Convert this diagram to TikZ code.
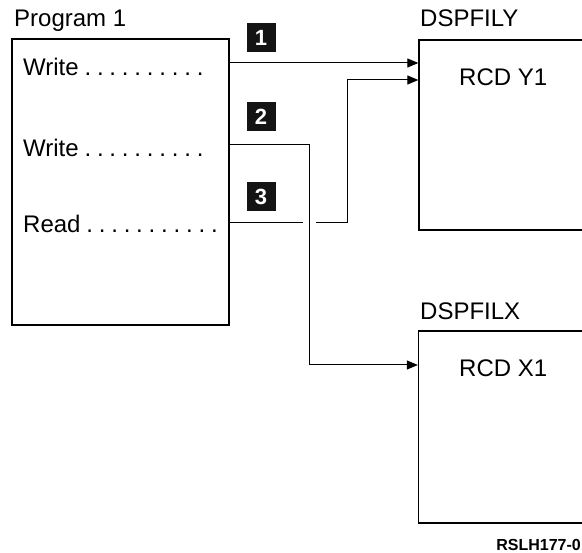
\documentclass[tikz,border=0pt]{standalone}
\usepackage{fontspec}
\setmainfont{Liberation Sans}
\usetikzlibrary{arrows.meta}
\begin{document}
\begin{tikzpicture}[x=1pt,y=-1pt]
\tikzset{
  box/.style={draw, line width=1.3pt, rectangle, inner sep=0pt},
  lbl/.style={anchor=base west, inner sep=0pt, font=\fontsize{24}{28}\selectfont},
  lead/.style={lbl, execute at begin node={\spaceskip=5.8pt\xspaceskip=5.8pt}},
  num/.style={fill=black!92, text=white, minimum size=29pt, inner sep=0pt, font=\fontsize{22}{26}\selectfont\bfseries},
  conn/.style={line width=1pt},
  arr/.style={conn, -{Triangle[length=11pt,width=9pt]}},
}
\clip (0,0) rectangle (582,553);
% boxes
\node[box, minimum width=217pt, minimum height=286pt] (prog) at (120.5,182) {};
\node[box, minimum width=240pt, minimum height=190pt] (dspy) at (539,135) {};
\node[box, minimum width=240pt, minimum height=192pt] (dspx) at (538.5,427) {};
% labels
\node[lbl] (tprog) at (14,27) {Program 1};
\node[lead] (w1) at (23,76) {Write . . . . . . . . . .};
\node[lead] (w2) at (23,157) {Write . . . . . . . . . .};
\node[lead] (rd) at (23,233) {Read . . . . . . . . . . .};
\node[lbl] (ty) at (420,27) {DSPFILY};
\node[lbl] (ry) at (459,86) {RCD Y1};
\node[lbl] (tx) at (420,320) {DSPFILX};
\node[lbl] (rx) at (459,377) {RCD X1};
\node[anchor=base east, inner sep=0pt, font=\fontsize{16}{19}\selectfont\bfseries] (code) at (581,551) {RSLH177-0};
% numbered squares
\node[num] (n1) at (261,38) {1};
\node[num] (n2) at (261,117) {2};
\node[num] (n3) at (261,197) {3};
% connector coordinates
\coordinate (y1) at (0,63);
\coordinate (y2) at (309,145);
\coordinate (y2b) at (309,365);
\coordinate (g3a) at (302.5,222.5);
\coordinate (g3b) at (316,222.5);
\coordinate (k3) at (347,222.5);
\coordinate (k3b) at (347,80);
% connectors
\draw[arr] (prog.east |- y1) -- (dspy.west |- y1);
\draw[arr] (prog.east |- y2) -- (y2) -- (y2b) -- (dspx.west |- y2b);
\draw[conn] (prog.east |- g3a) -- (g3a);
\draw[arr] (g3b) -- (k3) -- (k3b) -- (dspy.west |- k3b);
\end{tikzpicture}
\end{document}
